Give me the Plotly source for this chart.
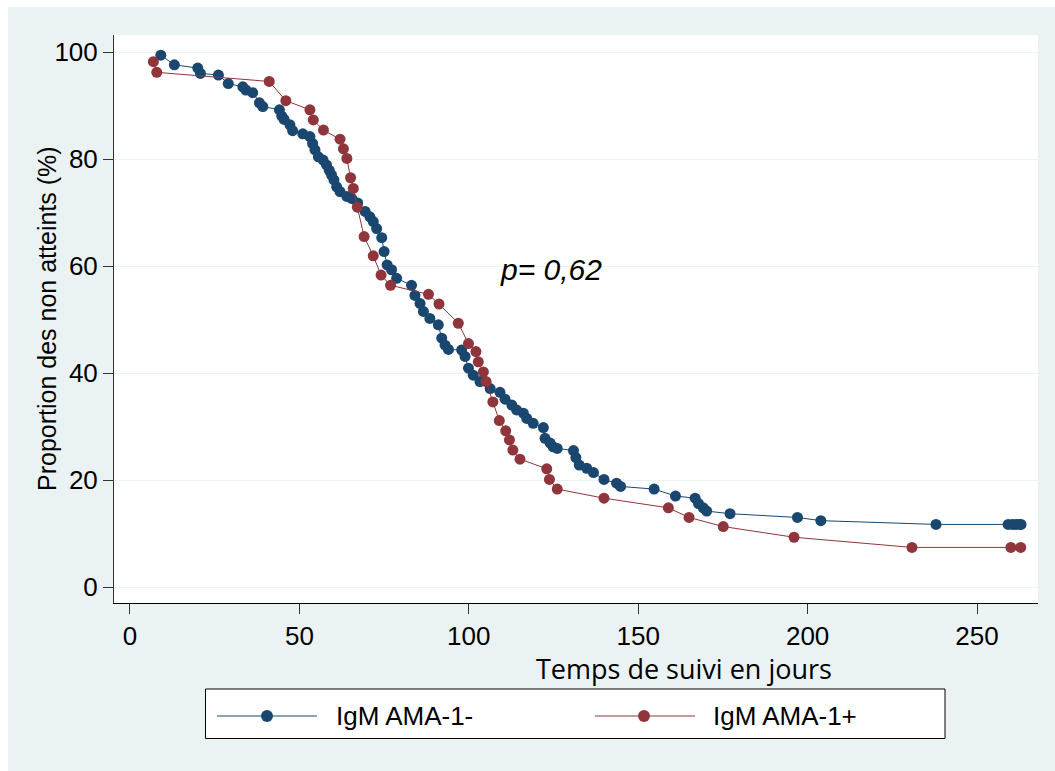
import plotly.graph_objects as go

# ---- data ----
days_neg = [9.1, 13.1, 20.0, 20.8, 26.1, 29.0, 33.3, 34.2, 36.2, 38.2, 39.2, 44.1, 44.8, 45.5,
            47.2, 48.0, 51.0, 53.1, 53.9, 54.6, 55.6, 57.0, 58.0, 58.8, 59.5, 60.2, 61.0, 62.0,
            64.0, 65.5, 67.2, 69.4, 70.8, 71.8, 72.8, 74.3, 75.0, 75.9, 77.2, 78.7, 83.1, 84.1,
            85.6, 86.6, 88.5, 91.0, 92.0, 93.0, 94.0, 97.9, 98.9, 99.9, 101.3, 103.3, 106.3,
            109.2, 110.7, 112.7, 114.1, 116.1, 117.1, 119.0, 122.0, 122.5, 124.0, 124.9, 126.1,
            130.9, 131.6, 132.6, 134.8, 136.8, 139.9, 143.6, 144.8, 154.7, 161.0, 166.8, 167.8,
            169.2, 170.2, 177.1, 197.0, 203.9, 237.9, 259.2, 260.5, 261.5, 262.5, 263.0]
surv_neg = [99.4, 97.6, 97.0, 96.0, 95.7, 94.1, 93.5, 92.9, 92.4, 90.5, 89.8, 89.2, 88.0, 87.4,
            86.4, 85.3, 84.7, 84.2, 82.9, 81.7, 80.4, 79.8, 78.9, 77.9, 77.0, 76.1, 74.8, 73.9,
            73.0, 72.6, 71.8, 70.2, 69.2, 68.3, 67.0, 65.3, 62.7, 60.2, 59.3, 57.7, 56.4, 54.5,
            53.0, 51.5, 50.2, 49.0, 46.5, 45.2, 44.4, 44.3, 43.1, 40.9, 39.6, 38.4, 37.1,
            36.4, 35.1, 34.0, 33.1, 32.5, 31.5, 30.6, 29.8, 27.8, 26.9, 26.2, 25.9,
            25.5, 24.2, 22.8, 22.2, 21.4, 20.1, 19.4, 18.8, 18.3, 17.0, 16.6, 15.6,
            14.8, 14.2, 13.7, 13.0, 12.4, 11.7, 11.7, 11.7, 11.7, 11.7, 11.7]

days_pos = [6.9, 7.9, 41.1, 46.0, 53.1, 54.1, 57.1, 62.0, 63.0, 64.0, 65.1, 65.9, 67.1, 69.1,
            71.8, 74.1, 76.9, 88.1, 91.2, 96.9, 99.9, 102.1, 102.8, 104.3, 105.1, 107.1, 109.0,
            110.9, 112.0, 113.0, 115.1, 123.0, 123.8, 126.1, 139.9, 158.9, 165.0, 175.1, 196.0,
            230.8, 260.0, 262.9]
surv_pos = [98.2, 96.2, 94.5, 90.9, 89.2, 87.3, 85.4, 83.7, 81.9, 80.1, 76.5, 74.5, 71.0, 65.5,
            61.9, 58.3, 56.4, 54.7, 52.9, 49.3, 45.5, 44.0, 42.1, 40.2, 38.4, 34.6, 31.1,
            29.2, 27.5, 25.6, 23.9, 22.1, 20.1, 18.3, 16.6, 14.8, 13.0, 11.3, 9.3,
            7.4, 7.4, 7.4]

x_ticks = [0, 50, 100, 150, 200, 250]
y_ticks = [0, 20, 40, 60, 80, 100]
series_names = ["IgM AMA-1-", "IgM AMA-1+"]
p_label = "p= 0,62"
x_title = "Temps de suivi en jours"
y_title = "Proportion des non atteints (%)"

# ---- style ----
BLUE = "#1a476f"
RED = "#90353b"
BG = "#eaf2f3"
W, H = 1055, 771
L, R, T, B = 114, 17, 35, 168
PW, PH = W - L - R, H - T - B


def px_x(p):
    return (p - L) / PW


def px_y(p):
    return (H - B - p) / PH


fig = go.Figure()
for xs, ys, col, name in [(days_neg, surv_neg, BLUE, series_names[0]),
                          (days_pos, surv_pos, RED, series_names[1])]:
    fig.add_trace(go.Scatter(x=xs, y=ys, mode="lines+markers", name=name,
                             line=dict(color=col, width=1),
                             marker=dict(color=col, size=11, line=dict(width=0)),
                             showlegend=False))

shapes = [
    # outer graph region
    dict(type="rect", xref="paper", yref="paper", layer="below",
         x0=px_x(8), x1=px_x(W), y0=px_y(H), y1=px_y(7),
         fillcolor=BG, line=dict(width=0)),
    # plot region
    dict(type="rect", xref="paper", yref="paper", layer="below",
         x0=0, x1=1, y0=0, y1=1, fillcolor="white", line=dict(width=0)),
    # legend box
    dict(type="rect", xref="paper", yref="paper",
         x0=px_x(205.5), x1=px_x(945), y0=px_y(738.5), y1=px_y(689),
         fillcolor="white", line=dict(color="black", width=1)),
]
annotations = [
    dict(text="<i>" + p_label + "</i>", x=124.4, y=59.3, xref="x", yref="y", showarrow=False,
         font=dict(family="Liberation Sans, Arial", size=30, color="black"),
         xanchor="center", yanchor="middle"),
    dict(text=x_title, x=px_x(684), y=px_y(668), xref="paper", yref="paper",
         showarrow=False, font=dict(family="Open Sans", size=27, color="black"),
         xanchor="center", yanchor="middle"),
    dict(text=y_title, x=px_x(47), y=0.5, xref="paper", yref="paper",
         showarrow=False, textangle=-90,
         font=dict(family="Liberation Sans, Arial", size=25, color="black"),
         xanchor="center", yanchor="middle"),
]

ly = px_y(716)
for (l0, l1, mx, tx), col, name in [((217, 317, 267, 334), BLUE, series_names[0]),
                                    ((595, 695, 644, 711), RED, series_names[1])]:
    shapes.append(dict(type="line", xref="paper", yref="paper",
                       x0=px_x(l0), x1=px_x(l1), y0=ly, y1=ly,
                       line=dict(color=col, width=1)))
    shapes.append(dict(type="circle", xref="paper", yref="paper",
                       xsizemode="pixel", ysizemode="pixel",
                       xanchor=px_x(mx), yanchor=ly, x0=-6, x1=6, y0=-6, y1=6,
                       fillcolor=col, line=dict(width=0)))
    annotations.append(dict(text=name, x=px_x(tx), y=ly, xref="paper", yref="paper",
                            showarrow=False, xanchor="left", yanchor="middle",
                            font=dict(family="Liberation Sans, Arial", size=26, color="black")))

fig.update_layout(
    width=W, height=H, autosize=False,
    margin=dict(l=L, r=R, t=T, b=B, pad=0),
    paper_bgcolor="white", plot_bgcolor="white",
    font=dict(family="Liberation Sans, Arial", size=26, color="black"),
    shapes=shapes, annotations=annotations,
    xaxis=dict(range=[-4.72, 268.0], tickvals=x_ticks, ticktext=[str(v) for v in x_ticks],
               showgrid=False, zeroline=False, showline=True, linecolor="black", linewidth=1,
               ticks="outside", ticklen=10, tickwidth=1, tickcolor="#333333",
               tickfont=dict(family="Liberation Sans, Arial", size=26)),
    yaxis=dict(range=[-2.99, 103.18], tickvals=y_ticks, ticktext=[str(v) for v in y_ticks],
               showgrid=True, gridcolor=BG, gridwidth=1, zeroline=False,
               showline=True, linecolor="#333333", linewidth=1,
               ticks="outside", ticklen=10, tickwidth=1, tickcolor="#333333",
               tickfont=dict(family="Liberation Sans, Arial", size=26)),
)

fig.write_html("out.html")
